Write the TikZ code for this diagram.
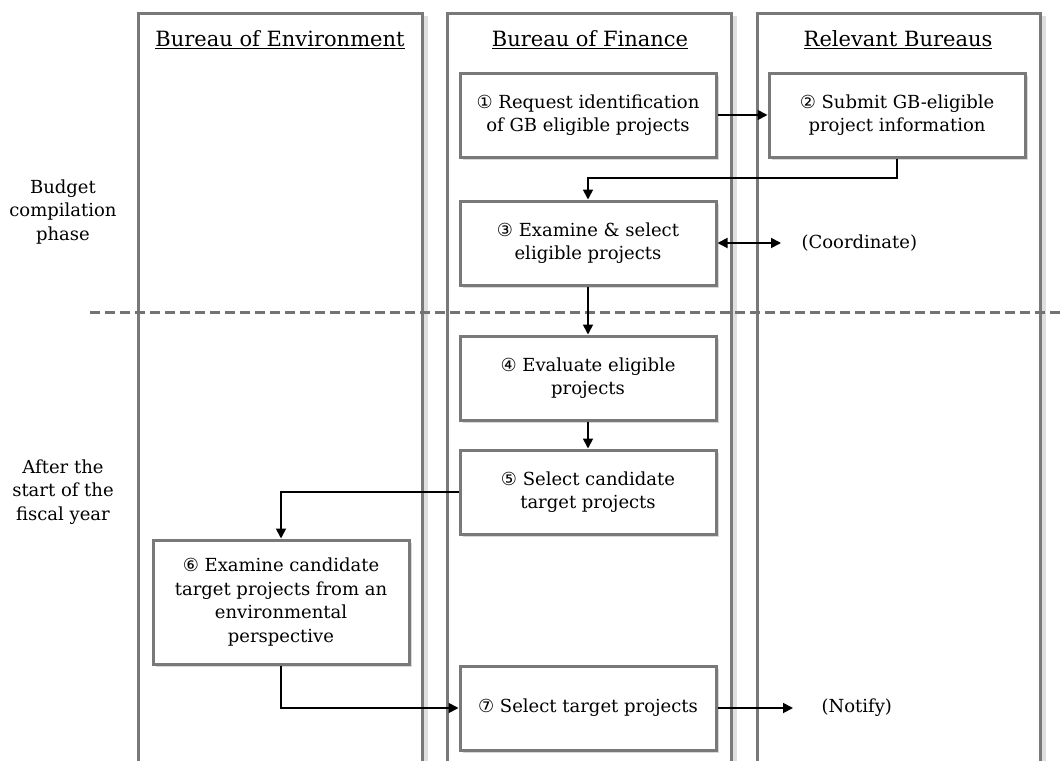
\documentclass[tikz,border=0pt]{standalone}
\usepackage{fontspec}
\setmainfont{DejaVu Serif}
\newfontfamily\circfont{DejaVu Sans}
\usetikzlibrary{arrows.meta,shadows}
\newcommand{\cn}[1]{{\circfont #1}}
\begin{document}
\begin{tikzpicture}[x=1pt,y=-1pt,
  lane/.style={draw=gray!95!black,line width=3pt,fill=white,
    drop shadow={opacity=0.25,shadow xshift=6pt,shadow yshift=-2pt}},
  box/.style={draw=gray!95!black,line width=3pt,fill=white,
    minimum width=256pt,minimum height=84pt,align=center,
    font=\fontsize{18}{23.5}\selectfont,
    drop shadow={opacity=0.3,shadow xshift=3pt,shadow yshift=-3pt}},
  arr/.style={line width=1.8pt,-{Triangle[length=10pt,width=10pt]}},
  darr/.style={line width=1.8pt,{Triangle[length=10pt,width=10pt]}-{Triangle[length=10pt,width=10pt]}},
  lbl/.style={align=center,font=\fontsize{18}{23.5}\selectfont},
  head/.style={font=\fontsize{21}{24}\selectfont}]
\useasboundingbox (0,0) rectangle (1064,760);
\begin{scope}
\clip (0,0) rectangle (1064,760);
\draw[lane] (138,14) rectangle (422,780);
\draw[lane] (447,14) rectangle (731,780);
\draw[lane] (757,14) rectangle (1040,780);
\draw[gray!90!black,line width=3pt,dash pattern=on 10pt off 5pt] (90,312) -- (1064,312);
\end{scope}
\node[head] (h1) at (280,40) {\underline{Bureau of Environment}};
\node[head] (h2) at (590,40) {\underline{Bureau of Finance}};
\node[head] (h3) at (898,40) {\underline{Relevant Bureaus}};
\node[lbl] (p1) at (63,212) {Budget\\compilation\\phase};
\node[lbl] (p2) at (63,492) {After the\\start of the\\fiscal year};
\node[box] (b1) at (588,115) {\cn{①} Request identification\\of GB eligible projects};
\node[box] (b2) at (897,115) {\cn{②} Submit GB-eligible\\project information};
\node[box] (b3) at (588,243) {\cn{③} Examine \& select\\eligible projects};
\node[box] (b4) at (588,378) {\cn{④} Evaluate eligible\\projects};
\node[box] (b5) at (588,492) {\cn{⑤} Select candidate\\target projects};
\node[box,minimum height=124pt] (b6) at (281,602) {\cn{⑥} Examine candidate\\target projects from an\\environmental\\perspective};
\node[box] (b7) at (588,708) {\cn{⑦} Select target projects};
\node[lbl,anchor=west] (co) at (798,243) {(Coordinate)};
\node[lbl,anchor=west] (no) at (818,708) {(Notify)};
\coordinate (cend) at (781,243);
\coordinate (nend) at (793,708);
\draw[arr] (b1.east) -- (b2.west);
\draw[arr] (b2.south) -- (b2.south |- 0,178) -| (b3.north);
\draw[darr] (b3.east) -- (cend);
\draw[arr] (b3.south) -- (b4.north);
\draw[arr] (b4.south) -- (b5.north);
\draw[arr] (b5.west) -| (b6.north);
\draw[arr] (b6.south) |- (b7.west);
\draw[arr] (b7.east) -- (nend);
\end{tikzpicture}
\end{document}
